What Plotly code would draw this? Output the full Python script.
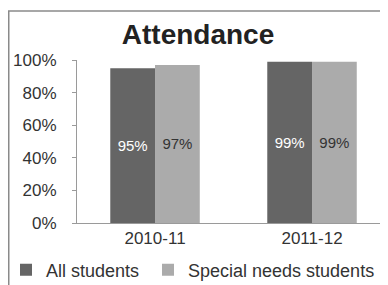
import plotly.graph_objects as go

categories = ["2010-11", "2011-12"]
all_students = [95, 99]
special_needs = [97, 99]
series_names = ["All students", "Special needs students"]
tick_vals = [0, 20, 40, 60, 80, 100]
tick_text = ["0%", "20%", "40%", "60%", "80%", "100%"]

FONT = "Liberation Sans, Arial, sans-serif"

# page body has an 8px margin, so the figure is drawn 8px in from the window edge
OFF = 8
W, H = 388 - OFF, 285 - OFF
L, R, T, B = 77 - OFF, 0, 60 - OFF, 62
pw, ph = W - L - R, H - T - B


def px_x(screen_x):
    return (screen_x - OFF - L) / pw


def px_y(screen_y):
    return (T + ph - (screen_y - OFF)) / ph


fig = go.Figure()
fig.add_trace(go.Bar(
    x=categories, y=all_students, name=series_names[0], legend="legend",
    marker=dict(color="#656565", line=dict(width=0)),
    text=[f"{v}%" for v in all_students], textposition="inside",
    insidetextanchor="middle",
    textfont=dict(color="white", size=15, family=FONT),
))
fig.add_trace(go.Bar(
    x=categories, y=special_needs, name=series_names[1], legend="legend2",
    marker=dict(color="#ababab", line=dict(width=0)),
    text=[f"{v}%" for v in special_needs], textposition="inside",
    insidetextanchor="middle",
    textfont=dict(color="#333333", size=15, family=FONT),
))

legend_common = dict(orientation="h", xanchor="left", yanchor="middle",
                     y=px_y(270), itemwidth=30,
                     font=dict(size=18, color="#333333"),
                     bgcolor="rgba(0,0,0,0)")

fig.update_layout(
    width=W, height=H,
    margin=dict(l=L, r=R, t=T, b=B, autoexpand=False),
    paper_bgcolor="white", plot_bgcolor="white",
    barmode="group", bargap=0.43, bargroupgap=0,
    font=dict(family=FONT, color="#333333"),
    uniformtext=dict(minsize=15, mode="show"),
    title=dict(text="<b>Attendance</b>", x=(198 - OFF) / W, xanchor="center",
               y=1 - (34 - OFF) / H, yanchor="middle",
               font=dict(size=28, color="#222222", family=FONT)),
    xaxis=dict(type="category", range=[-0.497, 1.484], showline=True,
               linecolor="#9a9a9a", linewidth=1, ticks="", showgrid=False,
               automargin=False,
               tickfont=dict(size=17, color="#333333")),
    yaxis=dict(range=[0, 100], tickvals=tick_vals, ticktext=tick_text,
               showline=True, linecolor="#9a9a9a", linewidth=1,
               ticks="outside", ticklen=4, tickcolor="#9a9a9a",
               ticklabelstandoff=12, automargin=False,
               showgrid=False, zeroline=False,
               tickfont=dict(size=17, color="#333333")),
    legend=dict(x=px_x(6), **legend_common),
    legend2=dict(x=px_x(148), **legend_common),
    showlegend=True,
)

# outer chart border
fig.add_shape(type="rect", xref="paper", yref="paper",
              x0=px_x(8.75), x1=1.2,
              y0=-1.0, y1=px_y(11),
              line=dict(color="#8a8a8a", width=1.5), layer="below")

fig.write_html("out.html")
